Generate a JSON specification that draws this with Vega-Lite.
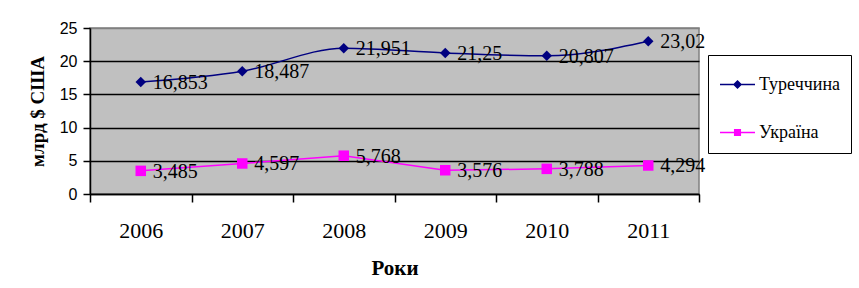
{
  "$schema": "https://vega.github.io/schema/vega-lite/v6.json",
  "width": 609,
  "height": 166,
  "autosize": {"type": "none"},
  "padding": {"left": 90, "top": 28, "right": 160, "bottom": 94},
  "background": "white",
  "config": {
    "view": {"fill": "#C0C0C0", "stroke": "#808080", "strokeWidth": 1.5},
    "font": "Liberation Serif",
    "legend": {"labelFont": "Liberation Serif"}
  },
  "data": {
    "values": [
      {"year": "2006", "country": "Туреччина", "value": 16.853, "label": "16,853"},
      {"year": "2007", "country": "Туреччина", "value": 18.487, "label": "18,487"},
      {"year": "2008", "country": "Туреччина", "value": 21.951, "label": "21,951"},
      {"year": "2009", "country": "Туреччина", "value": 21.25, "label": "21,25"},
      {"year": "2010", "country": "Туреччина", "value": 20.807, "label": "20,807"},
      {"year": "2011", "country": "Туреччина", "value": 23.02, "label": "23,02"},
      {"year": "2006", "country": "Україна", "value": 3.485, "label": "3,485"},
      {"year": "2007", "country": "Україна", "value": 4.597, "label": "4,597"},
      {"year": "2008", "country": "Україна", "value": 5.768, "label": "5,768"},
      {"year": "2009", "country": "Україна", "value": 3.576, "label": "3,576"},
      {"year": "2010", "country": "Україна", "value": 3.788, "label": "3,788"},
      {"year": "2011", "country": "Україна", "value": 4.294, "label": "4,294"}
    ]
  },
  "encoding": {
    "x": {
      "field": "year", "type": "ordinal",
      "scale": {"paddingInner": 0, "paddingOuter": 0},
      "axis": {
        "title": "Роки", "labelAngle": 0,
        "labelFont": "Liberation Serif", "labelFontSize": 22, "labelColor": "black",
        "labelPadding": 18,
        "titleFont": "Liberation Serif", "titleFontSize": 21, "titleFontWeight": "bold", "titleColor": "black",
        "titlePadding": 16,
        "domainColor": "black", "domainWidth": 1.5,
        "tickColor": "black", "tickWidth": 1.5, "tickSize": 8, "tickBand": "extent",
        "grid": false
      }
    },
    "y": {
      "field": "value", "type": "quantitative",
      "scale": {"domain": [0, 25], "nice": false, "zero": true},
      "axis": {
        "title": "млрд $ США",
        "values": [0, 5, 10, 15, 20, 25],
        "labelFont": "Liberation Sans", "labelFontSize": 16, "labelColor": "black",
        "labelPadding": 6,
        "titleFont": "Liberation Serif", "titleFontSize": 19, "titleFontWeight": "bold", "titleColor": "black",
        "titlePadding": 12,
        "domainColor": "black", "domainWidth": 1.5,
        "tickColor": "black", "tickWidth": 1.5, "tickSize": 7,
        "grid": true,
        "gridColor": {"condition": {"test": "datum.value === 25", "value": "#808080"}, "value": "black"},
        "gridWidth": 1.5, "gridOpacity": 1
      }
    }
  },
  "layer": [
    {
      "transform": [{"filter": "datum.country === 'Туреччина'"}],
      "mark": {"type": "line", "interpolate": "monotone", "strokeWidth": 1.5},
      "encoding": {
        "color": {
          "field": "country", "type": "nominal",
          "scale": {"domain": ["Туреччина", "Україна"], "range": ["#000080", "#FF00FF"]},
          "legend": {
            "title": null,
            "orient": "none",
            "legendX": 618,
            "legendY": 27,
            "fillColor": "white",
            "strokeColor": "black",
            "padding": 11,
            "symbolSize": 1225,
            "symbolStrokeWidth": 1.5,
            "labelFont": "Liberation Serif",
            "labelFontSize": 18,
            "labelColor": "black",
            "labelOffset": 3,
            "labelLimit": 200,
            "rowPadding": 20,
            "encode": {
              "symbols": {
                "update": {
                  "shape": {"signal": "datum.value === 'Туреччина' ? 'M-1,0L1,0M0,-0.2L0.2,0L0,0.2L-0.2,0Z' : 'M-1,0L1,0M-0.16,-0.16L0.16,-0.16L0.16,0.16L-0.16,0.16Z'"},
                  "fill": {"signal": "datum.value === 'Туреччина' ? '#000080' : '#FF00FF'"},
                  "fillOpacity": {"value": 1},
                  "strokeWidth": {"value": 1.5},
                  "opacity": {"value": 1}
                }
              },
              "labels": {
                "update": {
                  "font": {"value": "Liberation Serif"}
                }
              }
            }
          }
        }
      }
    },
    {
      "transform": [{"filter": "datum.country === 'Україна'"}],
      "mark": {"type": "line", "strokeWidth": 1.5},
      "encoding": {
        "color": {"field": "country", "type": "nominal"}
      }
    },
    {
      "mark": {"type": "point", "filled": true, "opacity": 1},
      "encoding": {
        "color": {"field": "country", "type": "nominal"},
        "shape": {
          "condition": {"test": "datum.country === 'Туреччина'", "value": "diamond"},
          "value": "square"
        },
        "size": {"value": 110}
      }
    },
    {
      "mark": {"type": "text", "align": "left", "baseline": "middle", "dx": 12, "dy": 1, "font": "Liberation Serif", "fontSize": 20, "color": "black"},
      "encoding": {
        "text": {"field": "label", "type": "nominal"}
      }
    }
  ]
}
